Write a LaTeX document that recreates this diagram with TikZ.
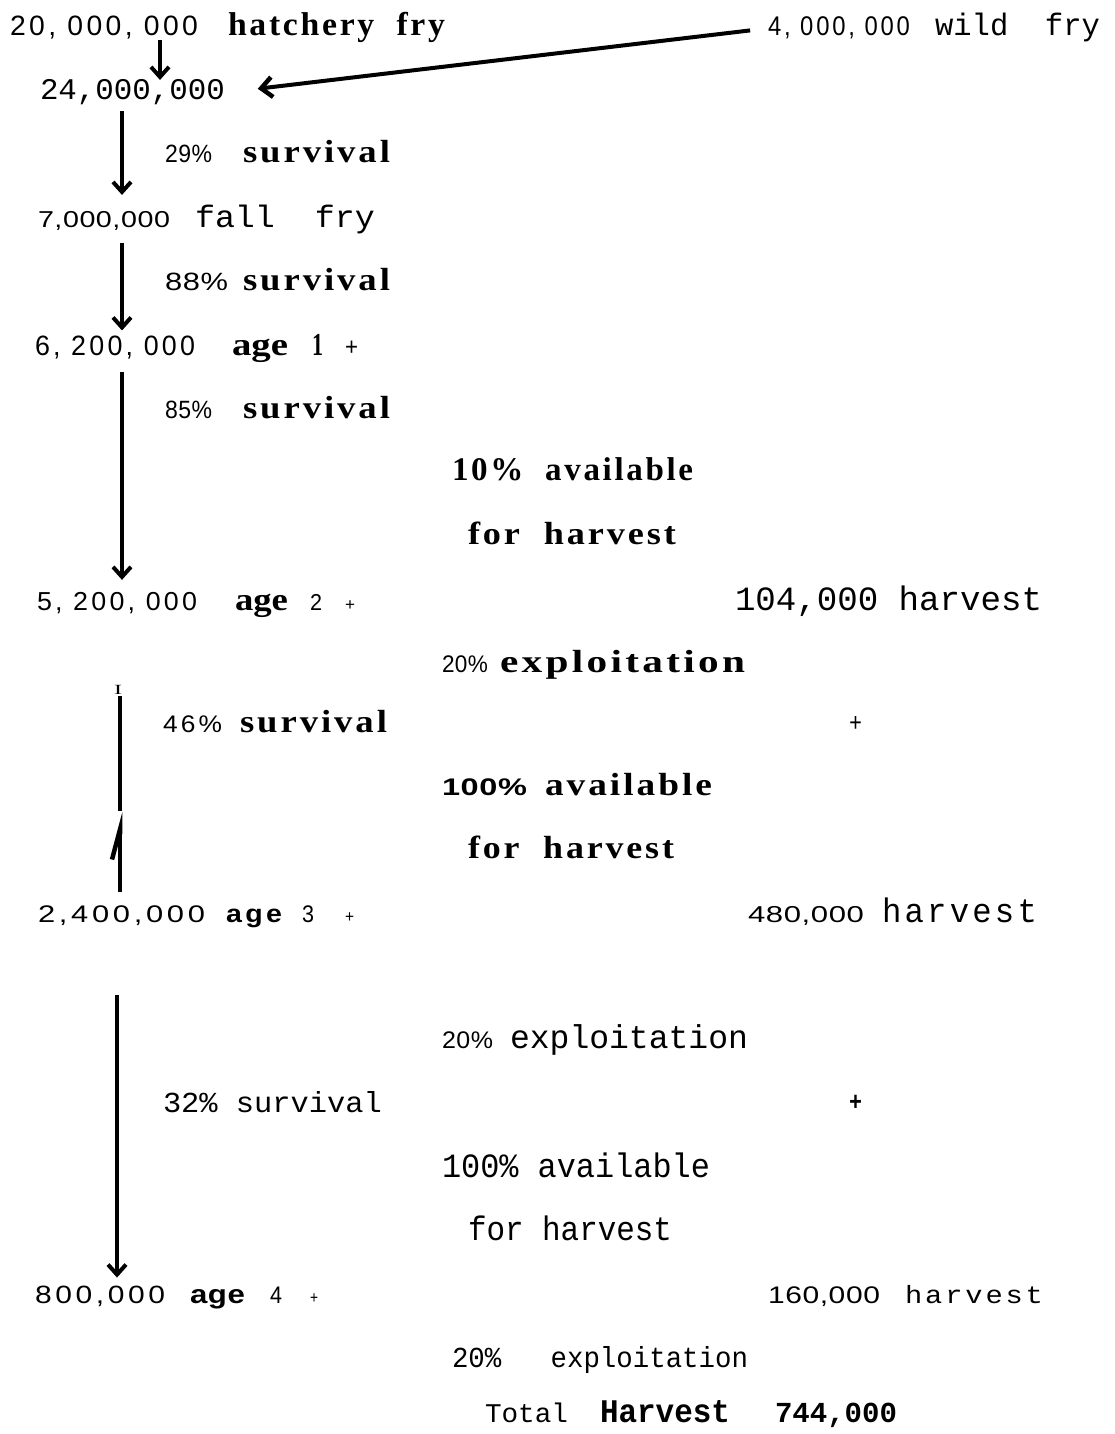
\documentclass[tikz,border=0pt]{standalone}
\usepackage{fontspec}
\usepackage{graphicx}
\usetikzlibrary{arrows.meta}
\setmainfont{Liberation Serif}
\newfontfamily\fsans{Liberation Sans}[Numbers=Lining,LetterSpace=2]
\newfontfamily\fsansls{Liberation Sans}[Numbers=Lining,LetterSpace=12]
\newfontfamily\fserif{Liberation Serif}
\newfontfamily\fserifls{Liberation Serif}[LetterSpace=8]
\newfontfamily\fmono{Liberation Mono}
\newfontfamily\fmonols{Liberation Mono}[LetterSpace=10]
\newcommand\tx[7]{\node[txt] (#1) at (#2,#3) {\resizebox{#4pt}{\height}{#5\fontsize{#6pt}{#6pt}\selectfont #7}};}
\tikzset{
  txt/.style={anchor=base west,inner sep=0pt,outer sep=0pt},
  arr/.style={line width=3.5pt,-{Straight Barb[length=10pt,width=18pt,line width=4pt]}},
  longarr/.style={line width=4pt,-{Straight Barb[length=11pt,width=20pt,line width=4.5pt]}},
  bar/.style={line width=4pt},
  harp/.style={line width=4pt,-{Straight Barb[harpoon,length=30pt,width=16pt,line width=4.5pt]}}
}
\begin{document}
\begin{tikzpicture}[x=1pt,y=-1pt]
\fill[white] (0,0) rectangle (1115,1434);
\useasboundingbox (0,0) rectangle (1115,1434);
% row 1
\tx{n20}{10}{36}{188}{\fsansls}{28}{20, 000, 000}
\tx{nhat}{228}{36}{217}{\fserifls\bfseries}{33}{hatchery\ \ fry}
\tx{n4}{768}{36}{142}{\fsansls}{27}{4, 000, 000}
\tx{nwild}{935}{36}{165}{\fmono}{31}{wild\ \ fry}
\tx{n24}{40}{100}{185}{\fmono}{30}{24,000,000}
% survival 29
\tx{p29}{165}{163}{47}{\fsans}{25}{29\%}
\tx{s29}{243}{163}{147}{\fserifls\bfseries}{32}{survival}
\tx{n7}{38}{227}{132}{\fsans}{23}{7,000,000}
\tx{nfall}{195}{227}{180}{\fmono}{31}{fall\ \ fry}
\tx{p88}{165}{290}{63}{\fsans}{25}{88\%}
\tx{s88}{243}{290}{147}{\fserifls\bfseries}{32}{survival}
\tx{n62}{35}{355}{160}{\fsansls}{28}{6, 200, 000}
\tx{age1}{232}{355}{56}{\fserif\bfseries}{32}{age}
\tx{one1}{312}{355}{11}{\fserif\bfseries}{32}{1}
\tx{pl1}{345}{355}{13}{\fsans}{25}{+}
\tx{p85}{165}{418}{47}{\fsans}{25}{85\%}
\tx{s85}{243}{418}{147}{\fserifls\bfseries}{32}{survival}
\tx{av10}{452}{480}{241}{\fserifls\bfseries}{33}{10\%\ \ available}
\tx{fh1}{468}{544}{208}{\fserifls\bfseries}{32}{for\ \ harvest}
\tx{n52}{37}{610}{160}{\fsansls}{26}{5, 200, 000}
\tx{age2}{235}{610}{53}{\fserif\bfseries}{32}{age}
\tx{two2}{310}{610}{12}{\fsans}{23}{2}
\tx{pl2}{345}{610}{10}{\fsans}{17}{+}
\tx{h104}{735}{610}{307}{\fmono}{34}{104,000 harvest}
\tx{p20a}{442}{672}{46}{\fsans}{24}{20\%}
\tx{ex20a}{500}{672}{245}{\fserifls\bfseries}{32}{exploitation}
\tx{icap}{114}{694}{8}{\fserif}{14}{I}
\tx{p46}{163}{732}{59}{\fsansls}{24}{46\%}
\tx{s46}{240}{732}{147}{\fserifls\bfseries}{32}{survival}
\tx{plA}{849}{731}{13}{\fmono}{26}{+}
\tx{p100a}{442}{795}{85}{\fsans\bfseries}{24}{100\%}
\tx{av100a}{545}{795}{167}{\fserifls\bfseries}{32}{available}
\tx{fh2}{468}{858}{206}{\fserifls\bfseries}{32}{for\ \ harvest}
\tx{n24k}{38}{922}{167}{\fsansls}{24}{2,400,000}
\tx{age3}{226}{922}{56}{\fsansls\bfseries}{25}{age}
\tx{thr3}{302}{922}{12}{\fsans}{24}{3}
\tx{pl3}{345}{922}{9}{\fsans}{17}{+}
\tx{n480}{748}{922}{116}{\fsans}{23}{480,000}
\tx{h480}{882}{922}{155}{\fmonols}{34}{harvest}
\tx{p20b}{442}{1048}{51}{\fsans}{24}{20\%}
\tx{ex20b}{510}{1048}{238}{\fmono}{33}{exploitation}
\tx{s32}{163}{1112}{219}{\fmono}{29}{32\% survival}
\tx{plB}{849}{1110}{13}{\fmono\bfseries}{26}{+}
\tx{av100b}{442}{1177}{268}{\fmono}{34}{100\%\ available}
\tx{fh3}{468}{1240}{204}{\fmono}{34}{for harvest}
\tx{n800}{35}{1303}{130}{\fsansls}{25}{800,000}
\tx{age4}{190}{1303}{55}{\fsans\bfseries}{26}{age}
\tx{fr4}{270}{1303}{12}{\fsans}{24}{4}
\tx{pl4}{310}{1303}{8}{\fsans}{17}{+}
\tx{n160}{768}{1303}{112}{\fsans}{24}{160,000}
\tx{h160}{905}{1303}{138}{\fmonols}{25}{harvest}
\tx{ex20c}{452}{1367}{296}{\fmono}{29}{20\%\ \ \ exploitation}
\tx{tot}{485}{1422}{83}{\fmono}{27}{Total}
\tx{harv}{600}{1422}{130}{\fmono\bfseries}{33}{Harvest}
\tx{v744}{775}{1422}{122}{\fmono\bfseries}{29}{744,000}
% arrows
\coordinate (hx) at (160,0);
\coordinate (ax) at (122,0);
\coordinate (bx) at (120,0);
\coordinate (cx) at (117,0);
\draw[arr] (hx |- n20.south) -- (hx |- n24.north);
\draw[longarr,shorten <=18pt,shorten >=33pt] (n4.west) -- (n24.east);
\draw[arr,shorten <=6pt,shorten >=16pt] (ax |- n24.south) -- (ax |- n7.north);
\draw[arr,shorten <=13pt,shorten >=5pt] (ax |- n7.south) -- (ax |- n62.north);
\draw[arr,shorten <=13pt,shorten >=12pt] (ax |- n62.south) -- (ax |- n52.north);
\draw[bar,shorten <=83pt,shorten >=94pt] (bx |- n52.south) -- (bx |- n24k.north);
\draw[harp,shorten <=13pt,shorten >=199pt] (bx |- n24k.north) -- (bx |- n52.south);
\draw[arr,shorten <=70pt,shorten >=8pt] (cx |- n24k.south) -- (cx |- n800.north);
\end{tikzpicture}
\end{document}
